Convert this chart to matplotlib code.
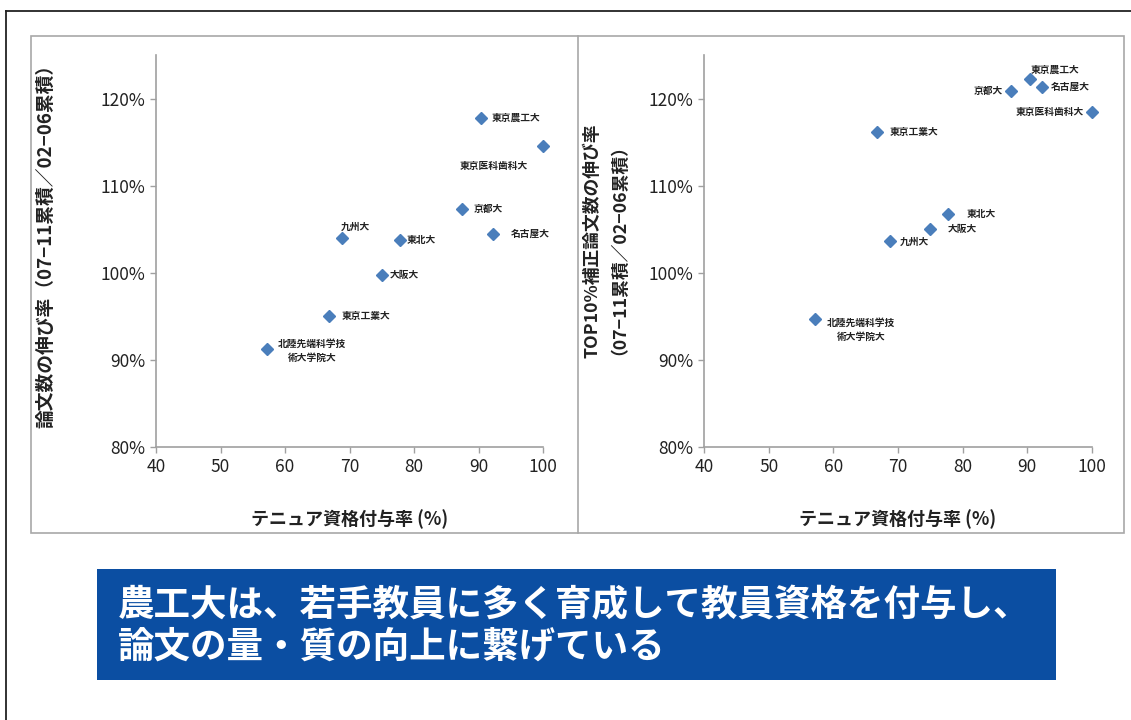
import matplotlib
matplotlib.use('Agg')
import matplotlib.pyplot as plt
from matplotlib.patches import Rectangle
from matplotlib.lines import Line2D
from matplotlib.ticker import FuncFormatter

plt.rcParams['font.family'] = ['Noto Sans CJK JP', 'DejaVu Sans']

# data
univ = ['東京農工大', '東京医科歯科大', '京都大', '名古屋大', '九州大',
        '東北大', '大阪大', '東京工業大', '北陸先端科学技\n術大学院大']
tenure = [90.4, 100.0, 87.4, 92.2, 68.8, 77.8, 75.0, 66.8, 57.2]
growth_papers = [117.8, 114.6, 107.3, 104.5, 104.0, 103.8, 99.7, 95.0, 91.3]
growth_top10 = [122.2, 118.4, 120.9, 121.3, 103.6, 106.8, 105.0, 116.2, 94.7]

xticks = [40, 50, 60, 70, 80, 90, 100]
yticks = [80, 90, 100, 110, 120]

xlabel = 'テニュア資格付与率 (%)'
ylabel_l = '論文数の伸び率（07−11累積／02−06累積）'
ylabel_r = 'TOP10%補正論文数の伸び率\n（07−11累積／02−06累積）'
banner = '農工大は、若手教員に多く育成して教員資格を付与し、\n論文の量・質の向上に繋げている'

# label placement (pixel offsets, alignment)
off_l = [(11, 0, 'left'), (-15, -20, 'right'), (12, 0, 'left'), (18, 0, 'left'),
         (-1, 11, 'left'), (7, 0, 'left'), (8, 0, 'left'), (13, 0, 'left'),
         (11, -2, 'left')]
off_r = [(1, 10, 'left'), (-8, 0, 'right'), (-8, 0, 'right'), (9, 0, 'left'),
         (10, 0, 'left'), (18, 0, 'left'), (17, 0, 'left'), (12, 0, 'left'),
         (12, -11, 'left')]

W, H = 1131, 720
fig = plt.figure(figsize=(W / 100, H / 100), dpi=100)
fig.patch.set_facecolor('white')

def fx(px):
    return px / W

def fy(py):
    return 1 - py / H

# outer frame
fig.add_artist(Line2D([fx(6), fx(6)], [fy(11), fy(720)], color='#222222', lw=1.3))
fig.add_artist(Line2D([fx(6), fx(1131)], [fy(11), fy(11)], color='#222222', lw=1.3))
# chart box
fig.add_artist(Rectangle((fx(31), fy(533)), fx(1124) - fx(31), fy(36) - fy(533),
                         fill=False, edgecolor='#a8a8a8', lw=1.2))
fig.add_artist(Line2D([fx(578), fx(578)], [fy(36), fy(533)], color='#a8a8a8', lw=1.2))

def draw(ax, yvals, offs, ylab, ylab_x, ylab_size):
    ax.plot(tenure, yvals, linestyle='none', marker='D', markersize=6.5,
            color='#4a7ebb', markeredgecolor='#4a7ebb', clip_on=False, zorder=5)
    for name, x, y, (dx, dy, ha) in zip(univ, tenure, yvals, offs):
        ax.annotate(name, (x, y), xytext=(dx, dy), textcoords='offset pixels',
                    ha=ha, va='center', fontsize=7, fontweight='bold',
                    color='#222222', multialignment='center', linespacing=1.5)
    ax.set_xlim(40, 100)
    ax.set_ylim(80, 125)
    ax.set_xticks(xticks)
    ax.set_yticks(yticks)
    ax.yaxis.set_major_formatter(FuncFormatter(lambda v, p: '%d%%' % v))
    for s in ['top', 'right']:
        ax.spines[s].set_visible(False)
    for s in ['left', 'bottom']:
        ax.spines[s].set_color('#a0a0a0')
        ax.spines[s].set_linewidth(1.2)
    ax.tick_params(axis='both', colors='#a0a0a0', labelcolor='#222222',
                   labelsize=12.5, length=4, width=1)
    ax.tick_params(axis='x', pad=4)
    ax.set_xlabel(xlabel, fontsize=13, fontweight='bold', color='#222222', labelpad=24)
    ax.patch.set_alpha(0)
    fig.text(ylab_x, fy(241), ylab, rotation=90, ha='center', va='center',
             fontsize=ylab_size, fontweight='bold', color='#222222',
             multialignment='center', linespacing=1.0)

ax1 = fig.add_axes([fx(156), fy(447), fx(543) - fx(156), fy(55) - fy(447)])
ax2 = fig.add_axes([fx(704), fy(447), fx(1092) - fx(704), fy(55) - fy(447)])
draw(ax1, growth_papers, off_l, ylabel_l, fx(46), 13.5)
draw(ax2, growth_top10, off_r, ylabel_r, fx(601), 12.8)

# banner
fig.add_artist(Rectangle((fx(97), fy(680)), fx(1056) - fx(97), fy(569) - fy(680),
                         facecolor='#0b4ea2', edgecolor='none'))
fig.text(fx(118), fy(626), banner, ha='left', va='center', color='white',
         fontsize=26.3, fontweight='bold', linespacing=1.15)

fig.savefig('out.png', dpi=100)
